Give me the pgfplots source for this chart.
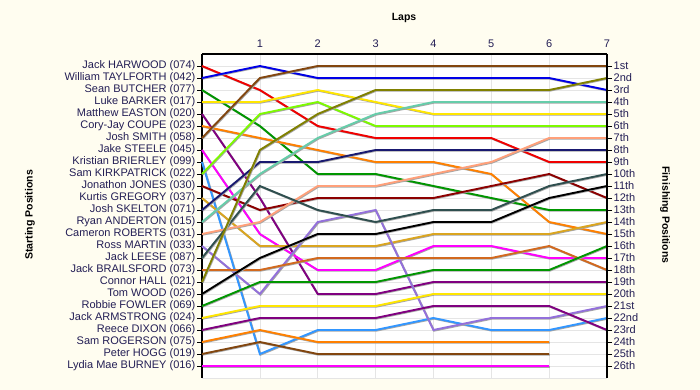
\documentclass[border=0pt]{standalone}
\usepackage{pgfplots}
\pgfplotsset{compat=1.18}
\usepackage{fontspec}
\setmainfont{Liberation Sans}
\definecolor{bg}{RGB}{255,253,240}
\definecolor{txt}{RGB}{35,30,85}
\definecolor{cRed}{RGB}{240,0,0}
\definecolor{cBlue}{RGB}{0,0,230}
\definecolor{cGreen}{RGB}{0,150,0}
\definecolor{cYellow}{RGB}{255,230,0}
\definecolor{cPurple}{RGB}{128,0,128}
\definecolor{cOrange}{RGB}{255,128,0}
\definecolor{cBrown}{RGB}{130,70,15}
\definecolor{cMagenta}{RGB}{255,0,255}
\definecolor{cLBlue}{RGB}{50,150,255}
\definecolor{cLime}{RGB}{125,250,0}
\definecolor{cDRed}{RGB}{140,0,0}
\definecolor{cGold}{RGB}{218,165,32}
\definecolor{cNavy}{RGB}{25,25,112}
\definecolor{cTeal}{RGB}{102,205,170}
\definecolor{cSalmon}{RGB}{255,160,122}
\definecolor{cLav}{RGB}{147,112,219}
\definecolor{cSlate}{RGB}{47,79,79}
\definecolor{cChoc}{RGB}{210,105,30}
\definecolor{cOlive}{RGB}{128,128,0}
\newcommand{\race}[2]{%
  \addplot[forget plot, draw=black!35, line width=1.9pt, xshift=0.7pt, yshift=-0.7pt] coordinates {#2};
  \addplot[forget plot, draw=#1, line width=1.9pt] coordinates {#2};
}
\begin{document}
\begin{tikzpicture}[x=1pt,y=1pt]
\fill[bg] (0,0) rectangle (700,390);
\useasboundingbox (0,0) rectangle (700,390);
\begin{axis}[at={(202pt,12pt)}, anchor=south west, scale only axis,
  width=405pt, height=324pt,
  xmin=0, xmax=7, ymin=0, ymax=27, y dir=reverse,
  axis background/.style={fill=white},
  axis x line*=top, axis y line*=left,
  axis line style={line width=1.2pt, black},
  xtick={1,...,7}, ytick={1,...,26},
  /pgf/number format/assume math mode=true,
  yticklabels={Jack HARWOOD (074),William TAYLFORTH (042),Sean BUTCHER (077),Luke BARKER (017),Matthew EASTON (020),Cory-Jay COUPE (023),Josh SMITH (058),Jake STEELE (045),Kristian BRIERLEY (099),Sam KIRKPATRICK (022),Jonathon JONES (030),Kurtis GREGORY (037),Josh SKELTON (071),Ryan ANDERTON (015),Cameron ROBERTS (031),Ross MARTIN (033),Jack LEESE (087),Jack BRAILSFORD (073),Connor HALL (021),Tom WOOD (026),Robbie FOWLER (069),Jack ARMSTRONG (024),Reece DIXON (066),Sam ROGERSON (075),Peter HOGG (019),Lydia Mae BURNEY (016)},
  tick align=outside,
  x tick style={draw=none},
  y tick style={line width=0.8pt, black}, major tick length=5pt,
  grid=major, grid style={draw=black!10, line width=0.6pt},
  ticklabel style={font=\fontsize{11}{12}\selectfont, text=txt},
  yticklabel style={inner sep=1.5pt},
  xticklabel style={inner sep=1pt},
  clip=false,
]
\draw[black!10, line width=0.6pt] (axis cs:0,27) -- (axis cs:7,27);
\race{cRed}{(0,1)(1,3)(2,6)(3,7)(4,7)(5,7)(6,9)(7,9)}
\race{cBlue}{(0,2)(1,1)(2,2)(3,2)(4,2)(5,2)(6,2)(7,3)}
\race{cGreen}{(0,3)(1,6)(2,10)(3,10)(4,11)(5,12)(6,13)(7,13)}
\race{cYellow}{(0,4)(1,4)(2,3)(3,4)(4,5)(5,5)(6,5)(7,5)}
\race{cPurple}{(0,5)(1,12)(2,20)(3,20)(4,19)(5,19)(6,19)(7,19)}
\race{cOrange}{(0,6)(1,7)(2,8)(3,9)(4,9)(5,10)(6,14)(7,15)}
\race{cBrown}{(0,7)(1,2)(2,1)(3,1)(4,1)(5,1)(6,1)(7,1)}
\race{cMagenta}{(0,8)(1,15)(2,18)(3,18)(4,16)(5,16)(6,17)(7,17)}
\race{cLBlue}{(0,9)(1,25)(2,23)(3,23)(4,22)(5,23)(6,23)(7,22)}
\race{cLime}{(0,10)(1,5)(2,4)(3,6)(4,6)(5,6)(6,6)(7,6)}
\race{cDRed}{(0,11)(1,13)(2,12)(3,12)(4,12)(5,11)(6,10)(7,12)}
\race{cGold}{(0,12)(1,16)(2,16)(3,16)(4,15)(5,15)(6,15)(7,14)}
\race{cNavy}{(0,13)(1,9)(2,9)(3,8)(4,8)(5,8)(6,8)(7,8)}
\race{cTeal}{(0,14)(1,10)(2,7)(3,5)(4,4)(5,4)(6,4)(7,4)}
\race{cSalmon}{(0,15)(1,14)(2,11)(3,11)(4,10)(5,9)(6,7)(7,7)}
\race{cLav}{(0,16)(1,20)(2,14)(3,13)(4,23)(5,22)(6,22)(7,21)}
\race{cSlate}{(0,17)(1,11)(2,13)(3,14)(4,13)(5,13)(6,11)(7,10)}
\race{cChoc}{(0,18)(1,18)(2,17)(3,17)(4,17)(5,17)(6,16)(7,18)}
\race{cOlive}{(0,19)(1,8)(2,5)(3,3)(4,3)(5,3)(6,3)(7,2)}
\race{black}{(0,20)(1,17)(2,15)(3,15)(4,14)(5,14)(6,12)(7,11)}
\race{cGreen}{(0,21)(1,19)(2,19)(3,19)(4,18)(5,18)(6,18)(7,16)}
\race{cYellow}{(0,22)(1,21)(2,21)(3,21)(4,20)(5,20)(6,20)(7,20)}
\race{cPurple}{(0,23)(1,22)(2,22)(3,22)(4,21)(5,21)(6,21)(7,23)}
\race{cOrange}{(0,24)(1,23)(2,24)(3,24)(4,24)(5,24)(6,24)}
\race{cBrown}{(0,25)(1,24)(2,25)(3,25)(4,25)(5,25)(6,25)}
\race{cMagenta}{(0,26)(1,26)(2,26)(3,26)(4,26)(5,26)(6,26)}
\end{axis}
\begin{axis}[at={(202pt,12pt)}, anchor=south west, scale only axis,
  width=405pt, height=324pt,
  xmin=0, xmax=7, ymin=0, ymax=27, y dir=reverse,
  axis x line=none, axis y line*=right,
  axis line style={line width=1.2pt, black},
  ytick={1,...,26},
  yticklabels={1st,2nd,3rd,4th,5th,6th,7th,8th,9th,10th,11th,12th,13th,14th,15th,16th,17th,18th,19th,20th,21st,22nd,23rd,24th,25th,26th},
  tick align=outside, major tick length=5pt,
  y tick style={line width=0.8pt, black},
  ticklabel style={font=\fontsize{11}{12}\selectfont, text=txt},
  yticklabel style={inner sep=1.5pt},
]
\addplot[draw=none, forget plot] coordinates {(0,1)(7,26)};
\end{axis}
\node[font=\bfseries\fontsize{10.5}{12}\selectfont] at (404,372) {Laps};
\node[font=\bfseries\fontsize{10.5}{12}\selectfont, rotate=90] at (30,175) {Starting Positions};
\node[font=\bfseries\fontsize{10.5}{12}\selectfont, rotate=-90] at (665,175) {Finishing Positions};
\end{tikzpicture}
\end{document}
